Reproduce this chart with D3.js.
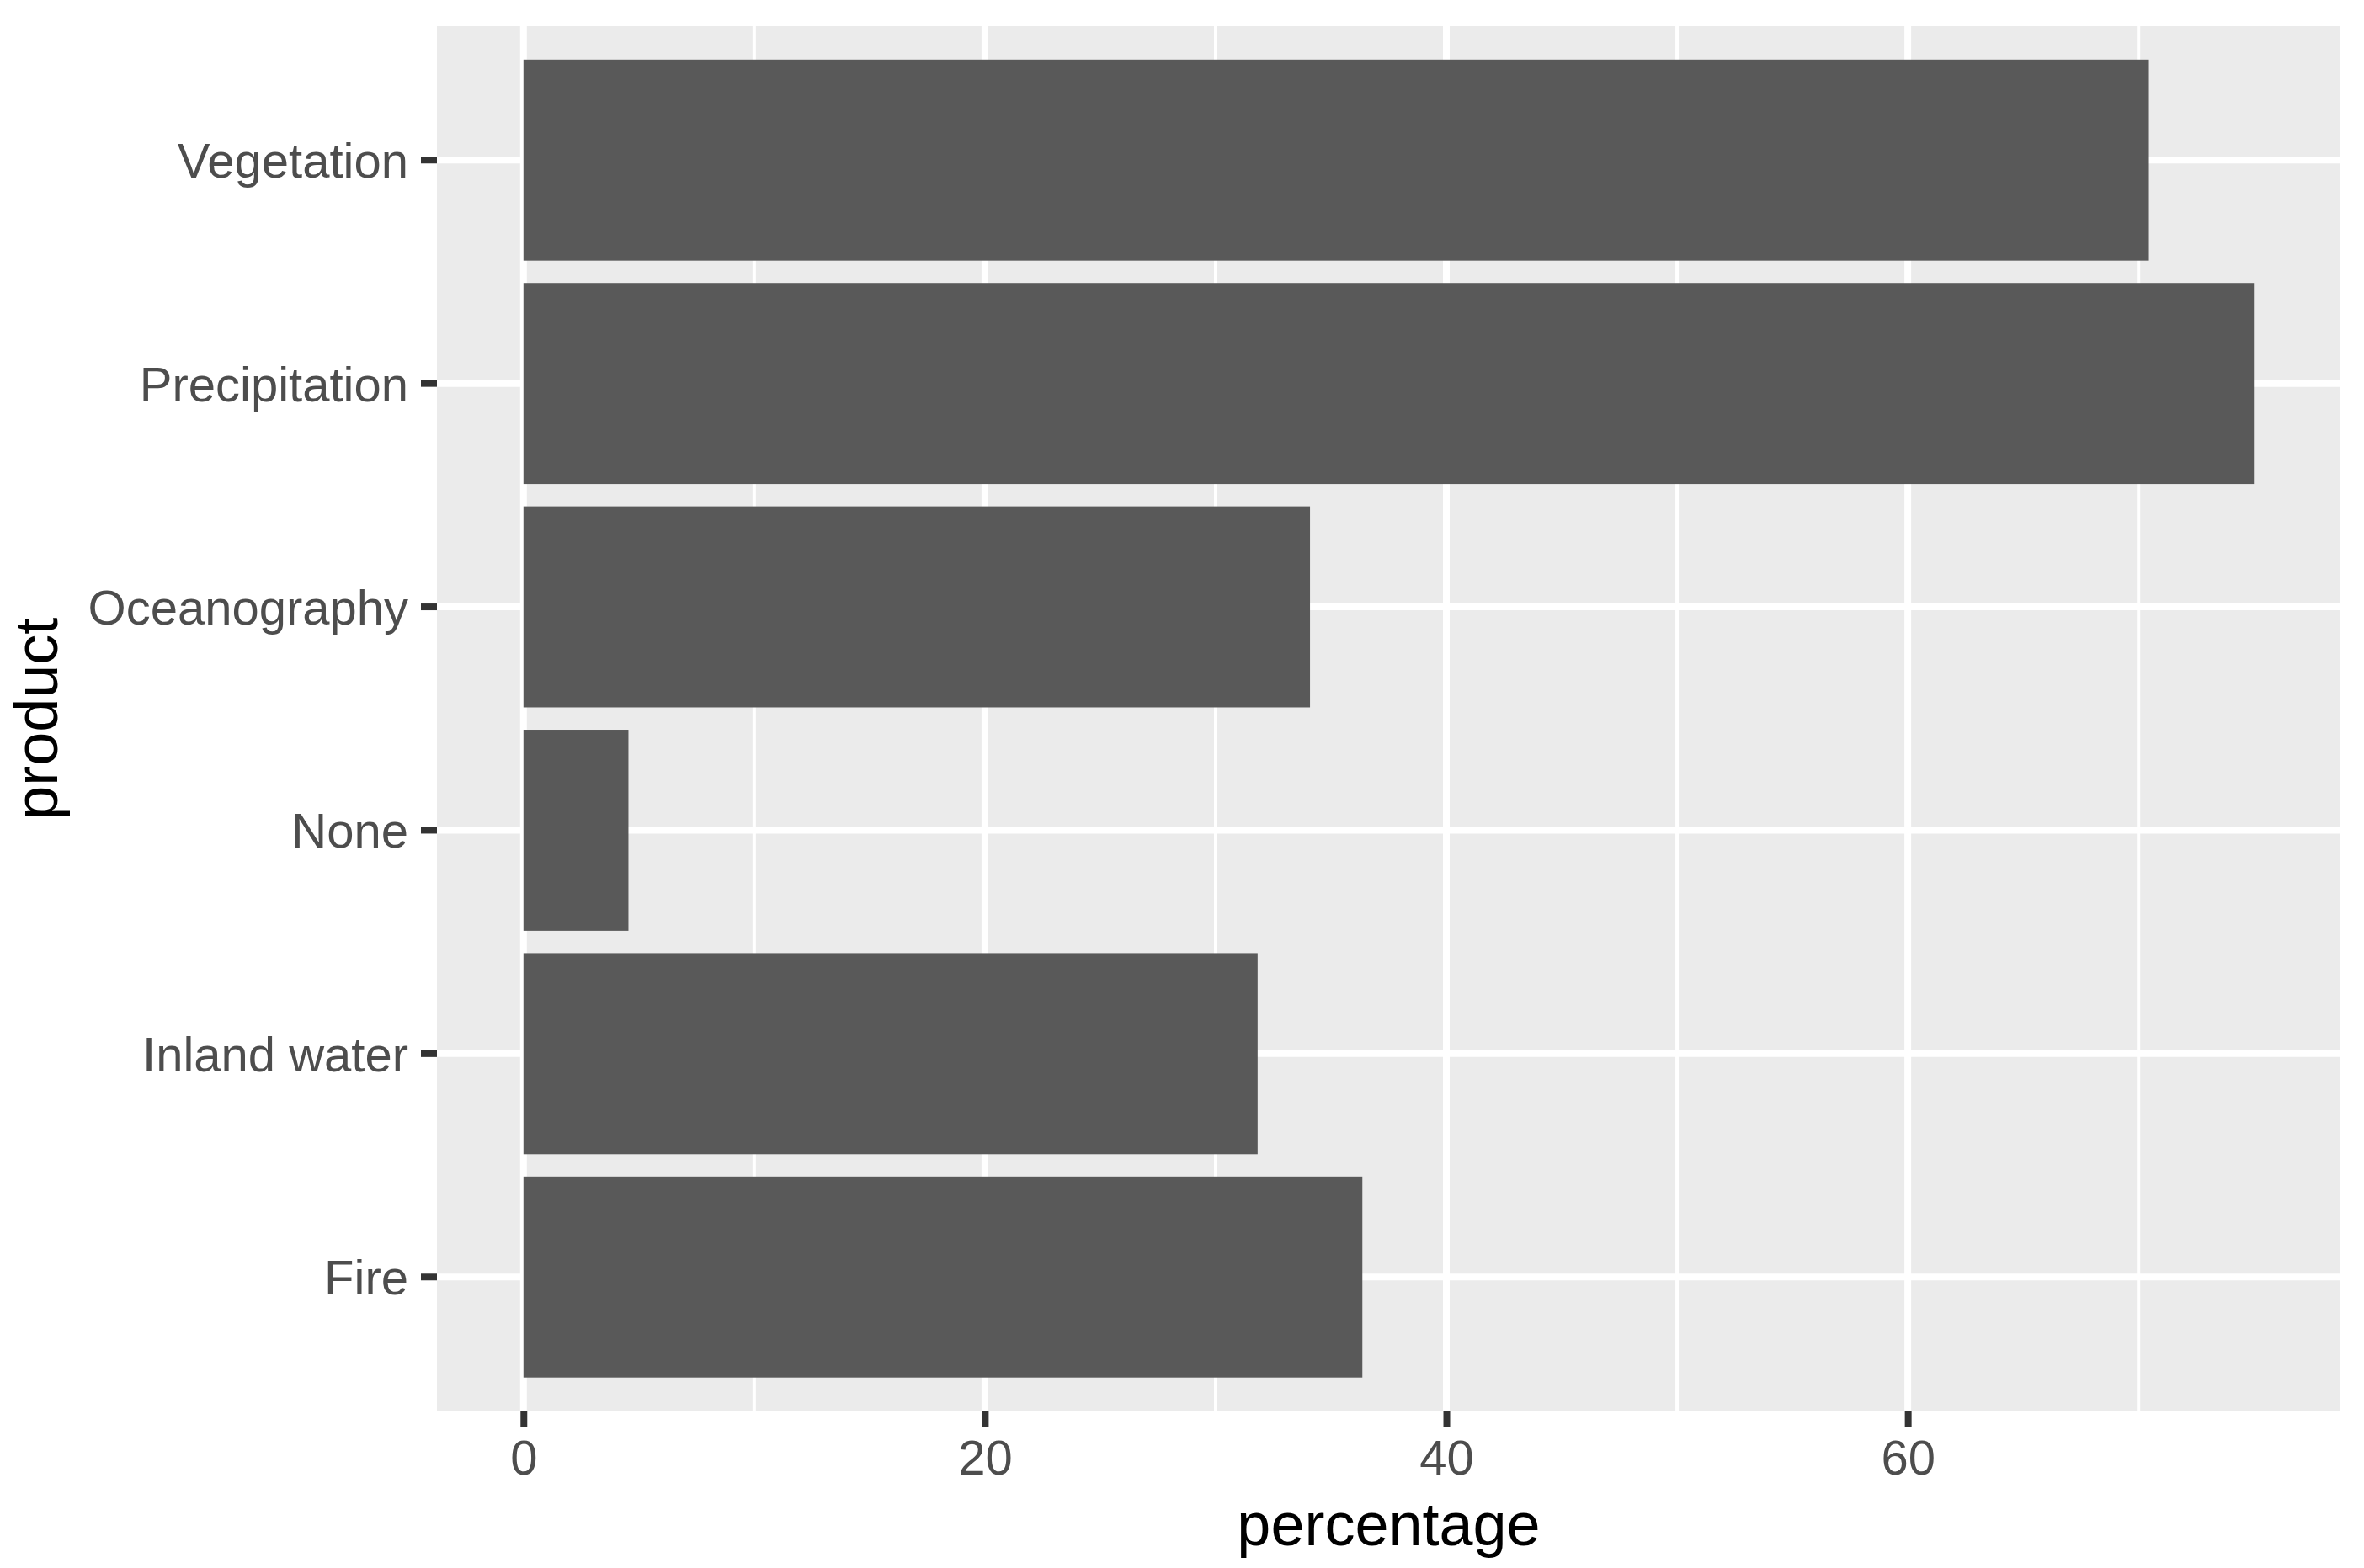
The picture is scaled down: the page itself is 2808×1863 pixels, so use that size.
<!DOCTYPE html>
<html>
<head>
<meta charset="utf-8">
<script src="https://cdn.jsdelivr.net/npm/d3@7"></script>
<style>
  html, body { margin: 0; padding: 0; background: #ffffff; }
  svg { display: block; }
  text { font-family: "Liberation Sans", Arial, Helvetica, sans-serif; }
</style>
</head>
<body>
<svg id="chart" width="2808" height="1863"></svg>
<script>
// Data (top to bottom as displayed)
const categories = ["Vegetation", "Precipitation", "Oceanography", "None", "Inland water", "Fire"];
const percentages = [70.45, 75.0, 34.09, 4.55, 31.82, 36.36];
const xTicks = [0, 20, 40, 60];
const xMinorTicks = [10, 30, 50, 70];
const xTitle = "percentage";
const yTitle = "product";

const W = 2808, H = 1863;
const panel = { left: 519, right: 2780, top: 31, bottom: 1676.5 };

const svg = d3.select("#chart");
svg.append("rect").attr("width", W).attr("height", H).attr("fill", "#ffffff");

const maxV = d3.max(percentages);
const pad = maxV * 0.05;
const x = d3.scaleLinear().domain([0 - pad, maxV + pad]).range([panel.left, panel.right]);
const y = d3.scaleBand().domain(categories).range([panel.top, panel.bottom])
  .paddingInner(0.1).paddingOuter(0.15);

// panel background
svg.append("rect")
  .attr("x", panel.left).attr("y", panel.top)
  .attr("width", panel.right - panel.left).attr("height", panel.bottom - panel.top)
  .attr("fill", "#EBEBEB");

const grid = svg.append("g");
// minor vertical gridlines
grid.selectAll("line.minor").data(xMinorTicks.filter(d => x(d) > panel.left && x(d) < panel.right))
  .enter().append("line")
  .attr("x1", d => x(d)).attr("x2", d => x(d))
  .attr("y1", panel.top).attr("y2", panel.bottom)
  .attr("stroke", "#ffffff").attr("stroke-width", 4);
// major vertical gridlines
grid.selectAll("line.majorx").data(xTicks)
  .enter().append("line")
  .attr("x1", d => x(d)).attr("x2", d => x(d))
  .attr("y1", panel.top).attr("y2", panel.bottom)
  .attr("stroke", "#ffffff").attr("stroke-width", 8);
// major horizontal gridlines
grid.selectAll("line.majory").data(categories)
  .enter().append("line")
  .attr("x1", panel.left).attr("x2", panel.right)
  .attr("y1", d => y(d) + y.bandwidth() / 2).attr("y2", d => y(d) + y.bandwidth() / 2)
  .attr("stroke", "#ffffff").attr("stroke-width", 8);

// bars
svg.append("g").selectAll("rect").data(categories)
  .enter().append("rect")
  .attr("x", x(0))
  .attr("y", d => y(d))
  .attr("width", (d, i) => x(percentages[i]) - x(0))
  .attr("height", y.bandwidth())
  .attr("fill", "#595959");

// x axis
const xAxis = d3.axisBottom(x).tickValues(xTicks).tickSize(19).tickPadding(15).tickFormat(d3.format("d"));
const gx = svg.append("g").attr("transform", `translate(0,${panel.bottom})`).call(xAxis);
gx.select(".domain").remove();
gx.selectAll(".tick line").attr("stroke", "#333333").attr("stroke-width", 8);
gx.selectAll(".tick text").attr("fill", "#4D4D4D").attr("font-size", 58)
  .attr("dy", "0.72em");

// y axis
const yAxis = d3.axisLeft(y).tickSize(19).tickPadding(15);
const gy = svg.append("g").attr("transform", `translate(${panel.left},0)`).call(yAxis);
gy.select(".domain").remove();
gy.selectAll(".tick line").attr("stroke", "#333333").attr("stroke-width", 8);
gy.selectAll(".tick text").attr("fill", "#4D4D4D").attr("font-size", 58)
  .attr("dy", "0.36em");

// axis titles
svg.append("text")
  .attr("x", (panel.left + panel.right) / 2).attr("y", 1836)
  .attr("text-anchor", "middle").attr("font-size", 72).attr("fill", "#000000")
  .text(xTitle);
svg.append("text")
  .attr("transform", `translate(68,${(panel.top + panel.bottom) / 2}) rotate(-90)`)
  .attr("text-anchor", "middle").attr("font-size", 72).attr("fill", "#000000")
  .text(yTitle);
</script>
</body>
</html>
